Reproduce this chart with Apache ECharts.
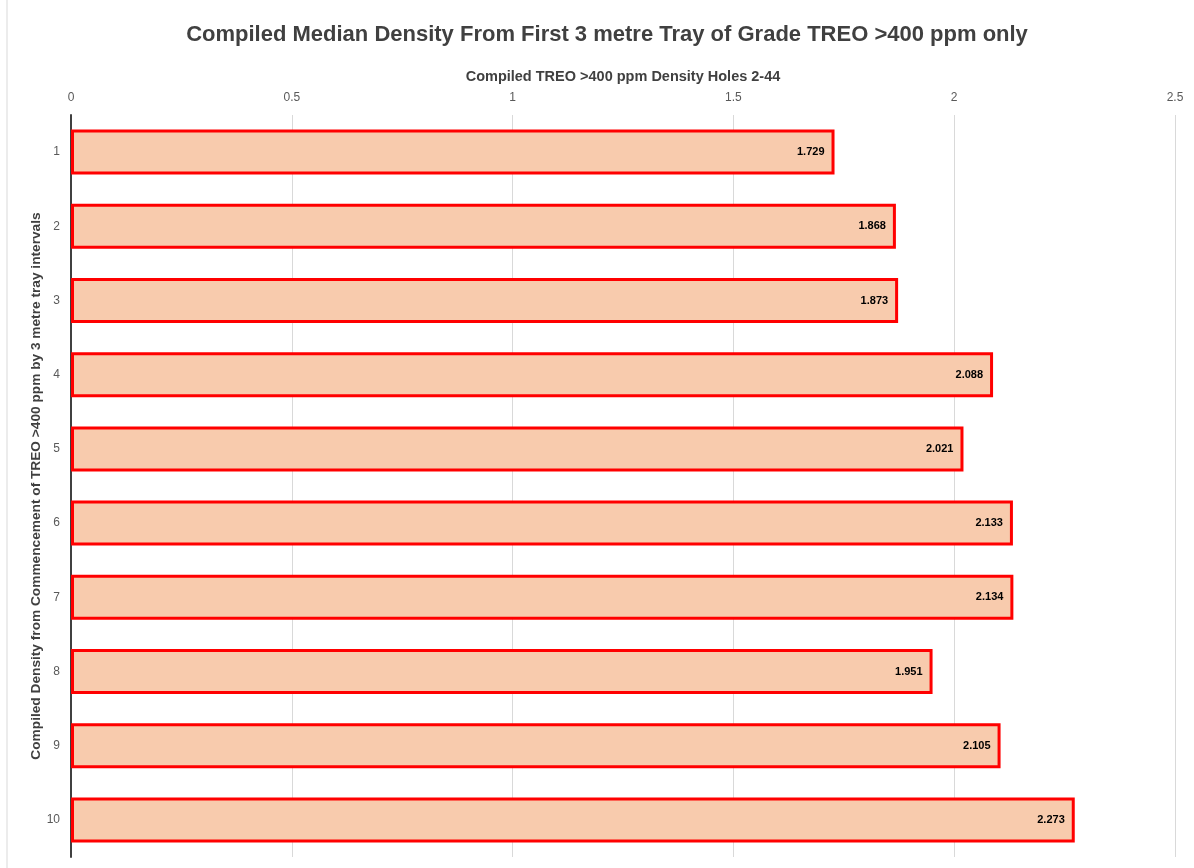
<!DOCTYPE html>
<html>
<head>
<meta charset="utf-8">
<script src="https://cdn.jsdelivr.net/npm/echarts@6/dist/echarts.min.js"></script>
<style>
html, body { margin: 0; padding: 0; background: #fff; }
#main { width: 1194px; height: 868px; }
</style>
</head>
<body>
<div id="main"></div>
<script>
var chart = echarts.init(document.getElementById('main'));

// tray intervals, top to bottom
var trays = ['1', '2', '3', '4', '5', '6', '7', '8', '9', '10'];
// compiled median density
var density = [1.729, 1.868, 1.873, 2.088, 2.021, 2.133, 2.134, 1.951, 2.105, 2.273];

var font = 'Liberation Sans';

var option = {
    backgroundColor: '#ffffff',
    title: {
        text: 'Compiled Median Density From First 3 metre Tray of Grade TREO >400 ppm only',
        left: 602,
        textAlign: 'center',
        top: 19,
        textStyle: { fontFamily: font, fontSize: 22, fontWeight: 'bold', color: '#404040' }
    },
    graphic: [{
        type: 'line',
        shape: { x1: 7, y1: 0, x2: 7, y2: 868 },
        style: { stroke: '#d9d9d9', lineWidth: 1 }
    }],
    grid: { left: 71, right: 19, top: 115, bottom: 11 },
    xAxis: {
        type: 'value',
        position: 'top',
        min: 0,
        max: 2.5,
        interval: 0.5,
        name: 'Compiled TREO >400 ppm Density Holes 2-44',
        nameLocation: 'middle',
        nameGap: 31,
        nameTextStyle: { fontFamily: font, fontSize: 14.5, fontWeight: 'bold', color: '#404040' },
        axisLine: { show: false },
        axisTick: { show: false },
        axisLabel: { fontFamily: font, fontSize: 12, color: '#595959', margin: 11 },
        splitLine: { lineStyle: { color: '#d9d9d9', width: 1 } }
    },
    yAxis: {
        type: 'category',
        data: trays,
        inverse: true,
        name: 'Compiled Density from Commencement of TREO >400 ppm by 3 metre tray intervals',
        nameLocation: 'middle',
        nameGap: 28,
        nameMoveOverlap: false,
        nameRotate: 90,
        nameTextStyle: { fontFamily: font, fontSize: 13.7, fontWeight: 'bold', color: '#404040' },
        axisLine: { lineStyle: { color: '#404040', width: 2 } },
        axisTick: { show: false },
        axisLabel: { fontFamily: font, fontSize: 12, color: '#595959', margin: 11 }
    },
    series: [{
        type: 'bar',
        data: density,
        barWidth: 45,
        itemStyle: { color: '#f8cbad', borderColor: '#ff0000', borderWidth: 3 },
        label: {
            show: true,
            position: 'insideRight',
            distance: 10,
            fontFamily: font,
            fontSize: 11,
            fontWeight: 'bold',
            color: '#000000',
            formatter: function (p) { return p.value.toFixed(3); }
        }
    }]
};

chart.setOption(option);
</script>
</body>
</html>
